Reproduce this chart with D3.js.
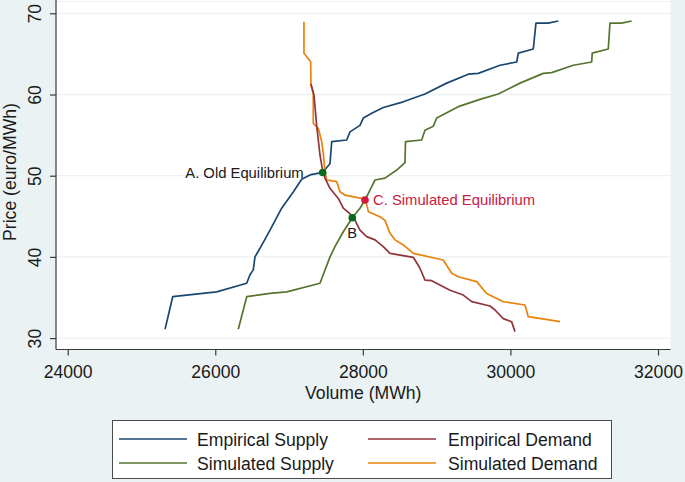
<!DOCTYPE html>
<html>
<head>
<meta charset="utf-8">
<script src="https://cdn.jsdelivr.net/npm/d3@7"></script>
<style>
  html, body { margin: 0; padding: 0; background: #eaf2f3; }
  svg { display: block; font-family: "Liberation Sans", Arial, sans-serif; }
</style>
</head>
<body>
<svg id="chart" width="685" height="482"></svg>
<script>
// ---------------- data ----------------
const xTicks = [24000, 26000, 28000, 30000, 32000];
const yTicks = [30, 40, 50, 60, 70];

const empSupplyVol   = [25320, 25423, 26019, 26426, 26471, 26515, 26538, 26606, 26742, 26900, 27057, 27171, 27284, 27456, 27555, 27578, 27781, 27826, 27961, 28006, 28120, 28277, 28548, 28842, 29136, 29429, 29564, 29859, 30085, 30107, 30310, 30346, 30513, 30649];
const empSupplyPrice = [31.1, 35.1, 35.7, 36.75, 37.8, 38.4, 40.0, 41.06, 43.3, 46.0, 48.0, 49.56, 50.1, 50.4, 51.5, 54.2, 54.4, 55.4, 56.2, 57.1, 57.7, 58.4, 59.1, 60.06, 61.4, 62.5, 62.6, 63.6, 64.0, 65.1, 65.6, 68.8, 68.8, 69.05];

const simSupplyVol   = [26312, 26426, 26742, 26968, 27419, 27555, 27622, 27735, 27857, 27961, 28029, 28120, 28165, 28300, 28459, 28571, 28578, 28797, 28842, 28955, 29001, 29293, 29588, 29835, 30130, 30445, 30559, 30852, 31101, 31109, 31326, 31349, 31508, 31643];
const simSupplyPrice = [31.1, 35.1, 35.5, 35.7, 36.75, 40.0, 41.26, 43.1, 44.83, 46.0, 47.0, 48.65, 49.47, 49.7, 50.7, 51.6, 54.2, 54.4, 55.6, 56.1, 57.1, 58.5, 59.4, 60.06, 61.4, 62.6, 62.7, 63.6, 64.0, 65.1, 65.6, 68.8, 68.8, 69.05];

const empDemandVol   = [27297, 27338, 27374, 27419, 27450, 27487, 27555, 27667, 27735, 27826, 27894, 27961, 28052, 28165, 28277, 28368, 28684, 28774, 28842, 28933, 29181, 29361, 29475, 29723, 29791, 29903, 30017, 30062];
const empDemandPrice = [61.3, 59.9, 56.2, 52.55, 50.9, 49.7, 48.45, 47.2, 46.0, 45.3, 44.5, 43.3, 42.5, 42.1, 41.26, 40.44, 39.95, 38.6, 37.15, 37.07, 35.9, 35.3, 34.5, 33.95, 33.46, 32.4, 32.0, 30.8];

const simDemandVol   = [27202, 27202, 27293, 27297, 27328, 27328, 27396, 27442, 27464, 27487, 27510, 27646, 27690, 27758, 27984, 28029, 28060, 28074, 28232, 28300, 28368, 28436, 28548, 28684, 29090, 29204, 29293, 29543, 29678, 29903, 30197, 30242, 30672];
const simDemandPrice = [68.97, 65.07, 64.04, 61.17, 60.15, 56.45, 55.84, 54.2, 52.76, 50.5, 49.47, 49.26, 48.03, 47.6, 47.2, 47.0, 46.2, 45.57, 44.95, 44.5, 42.9, 42.1, 41.47, 40.44, 39.62, 37.98, 37.56, 36.95, 35.5, 34.48, 34.08, 32.64, 32.02];

const seriesNames  = ["Empirical Supply", "Empirical Demand", "Simulated Supply", "Simulated Demand"];
const seriesColors = ["#1a476f", "#90353b", "#55752f", "#e8820c"];

const pointLabels = ["A. Old Equilibrium", "C. Simulated Equilibrium", "B"];
const pointVol    = [27456, 28029, 27857];
const pointPrice  = [50.4, 47.0, 44.83];
const pointColors = ["#0a6a1c", "#d0193c", "#0a6a1c"];
const labelColors = ["#1a1a1a", "#c8203f", "#1a1a1a"];

// ---------------- drawing ----------------
const svg = d3.select("#chart");
const W = 685, H = 482;
const plot = { left: 56, right: 670.5, top: 0, bottom: 349.5 };
const FS = 17.6;

const x = d3.scaleLinear().domain([24000, 32000]).range([67.7, 658]);
const y = d3.scaleLinear().domain([30, 70]).range([338.1, 13.3]);

svg.append("rect").attr("width", W).attr("height", H).attr("fill", "#eaf2f3");
svg.append("rect")
  .attr("x", plot.left).attr("y", plot.top)
  .attr("width", plot.right - plot.left).attr("height", plot.bottom - plot.top)
  .attr("fill", "#ffffff");
svg.append("line")
  .attr("x1", plot.left).attr("x2", plot.right).attr("y1", 1.5).attr("y2", 1.5)
  .attr("stroke", "#eaf2f3").attr("stroke-width", 1.2);

// gridlines
svg.append("g").selectAll("line").data(yTicks).join("line")
  .attr("x1", plot.left).attr("x2", plot.right)
  .attr("y1", d => y(d)).attr("y2", d => y(d))
  .attr("stroke", "#eaf2f3").attr("stroke-width", 1.3);

// y axis
const yAxis = svg.append("g").attr("transform", `translate(${plot.left},0)`)
  .call(d3.axisLeft(y).tickValues(yTicks).tickSize(6).tickSizeOuter(0).tickFormat(d3.format("d")));
yAxis.select(".domain").remove();
yAxis.append("line").attr("x1", 0).attr("x2", 0).attr("y1", plot.top).attr("y2", plot.bottom)
  .attr("stroke", "#3a3a3a").attr("stroke-width", 1.2);
yAxis.selectAll(".tick line").attr("stroke", "#3a3a3a").attr("stroke-width", 1.2);
yAxis.selectAll(".tick text")
  .attr("x", null).attr("dy", null)
  .attr("transform", "translate(-15,0) rotate(-90)")
  .attr("text-anchor", "middle")
  .attr("fill", "#1a1a1a").attr("font-size", FS)
  .style("font-family", "'Liberation Sans', Arial, sans-serif");

// x axis
const xAxis = svg.append("g").attr("transform", `translate(0,${plot.bottom})`)
  .call(d3.axisBottom(x).tickValues(xTicks).tickSize(6).tickSizeOuter(0).tickFormat(d3.format("d")));
xAxis.select(".domain").remove();
xAxis.append("line").attr("x1", plot.left).attr("x2", plot.right).attr("y1", 0).attr("y2", 0)
  .attr("stroke", "#3a3a3a").attr("stroke-width", 1.2);
xAxis.selectAll(".tick line").attr("stroke", "#3a3a3a").attr("stroke-width", 1.2);
xAxis.selectAll(".tick text")
  .attr("y", 28).attr("dy", null)
  .attr("fill", "#1a1a1a").attr("font-size", FS)
  .style("font-family", "'Liberation Sans', Arial, sans-serif");

// axis titles
svg.append("text")
  .attr("transform", "translate(16,172) rotate(-90)")
  .attr("text-anchor", "middle").attr("font-size", FS).attr("fill", "#1a1a1a")
  .text("Price (euro/MWh)");
svg.append("text")
  .attr("x", (plot.left + plot.right) / 2).attr("y", 399)
  .attr("text-anchor", "middle").attr("font-size", FS).attr("fill", "#1a1a1a")
  .text("Volume (MWh)");

// series
const seriesData = [
  d3.zip(empSupplyVol, empSupplyPrice),
  d3.zip(empDemandVol, empDemandPrice),
  d3.zip(simSupplyVol, simSupplyPrice),
  d3.zip(simDemandVol, simDemandPrice)
];
const line = d3.line().x(d => x(d[0])).y(d => y(d[1]));
const drawOrder = [0, 2, 3, 1];
svg.append("g").selectAll("path").data(drawOrder).join("path")
  .attr("d", i => line(seriesData[i]))
  .attr("fill", "none")
  .attr("stroke", i => seriesColors[i])
  .attr("stroke-width", 1.7)
  .attr("stroke-linejoin", "round");

// equilibrium points
const pts = d3.range(pointLabels.length);
svg.append("g").selectAll("circle").data(pts).join("circle")
  .attr("cx", i => x(pointVol[i])).attr("cy", i => y(pointPrice[i]))
  .attr("r", 3.8).attr("fill", i => pointColors[i]);

const labelPos = [
  { dx: -19, dy: 6, anchor: "end" },
  { dx: 8, dy: 5, anchor: "start" },
  { dx: 0, dy: 20, anchor: "middle" }
];
svg.append("g").selectAll("text").data(pts).join("text")
  .attr("x", i => x(pointVol[i]) + labelPos[i].dx)
  .attr("y", i => y(pointPrice[i]) + labelPos[i].dy)
  .attr("text-anchor", i => labelPos[i].anchor)
  .attr("font-size", 14.8)
  .attr("fill", i => labelColors[i])
  .text(i => pointLabels[i]);

// legend
const lg = svg.append("g");
lg.append("rect").attr("x", 112.5).attr("y", 420.5).attr("width", 499).attr("height", 58)
  .attr("fill", "#ffffff").attr("stroke", "#4a4a4a").attr("stroke-width", 1);
const legendCol = [119, 368];
const legendRow = [439, 463];
const items = lg.selectAll("g").data(d3.range(4)).join("g")
  .attr("transform", i => `translate(${legendCol[i % 2]},${legendRow[Math.floor(i / 2)]})`);
items.append("line").attr("x1", 0).attr("x2", 68).attr("y1", 0).attr("y2", 0)
  .attr("stroke", i => seriesColors[i]).attr("stroke-width", 1.7);
items.append("text").attr("x", i => (i % 2 === 0 ? 78 : 80)).attr("y", 6.5)
  .attr("font-size", FS).attr("fill", "#1a1a1a")
  .text(i => seriesNames[i]);
</script>
</body>
</html>
